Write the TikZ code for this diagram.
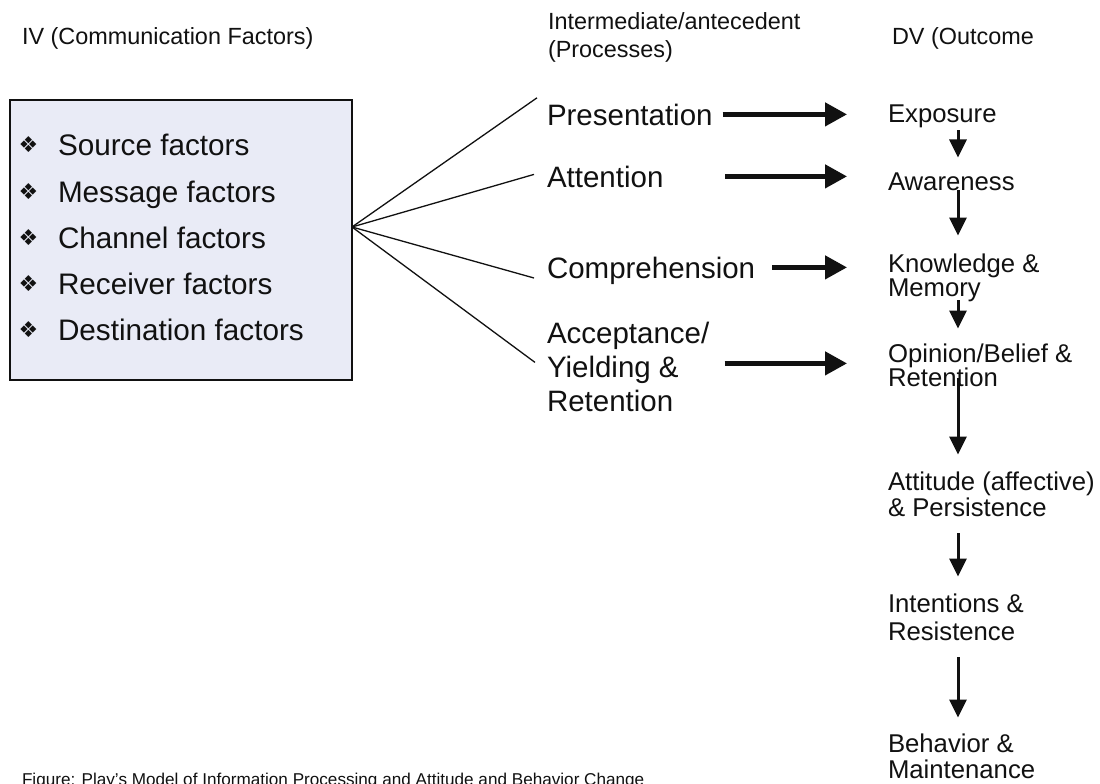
\documentclass[tikz,border=0pt]{standalone}
\usepackage{fontspec}
\setmainfont{Liberation Sans}
\newfontfamily\symfont{DejaVu Sans}
\usetikzlibrary{arrows.meta}
\definecolor{boxfill}{RGB}{233,235,246}
\definecolor{ink}{RGB}{17,17,17}

\begin{document}
\begin{tikzpicture}[x=1bp,y=-1bp]
\tikzset{
  every node/.style={inner sep=0pt, outer sep=0pt, anchor=base west, text=ink},
  hdr/.style={font=\fontsize{23.5}{28}\selectfont},
  item/.style={font=\fontsize{29.8}{34}\selectfont},
  bul/.style={anchor=center, font=\symfont\fontsize{22}{22}\selectfont},
  proc/.style={font=\fontsize{29.6}{35}\selectfont, text height=21.2bp, text depth=0pt},
  outc/.style={font=\fontsize{25.8}{26}\selectfont, text height=18.5bp, text depth=0pt},
  note/.style={font=\fontsize{17.2}{20}\selectfont},
  fanline/.style={draw=ink, line width=1.3bp},
  harrow/.style={draw=ink, line width=4.5bp, -{Triangle[length=22bp,width=23bp]}},
  varrow/.style={draw=ink, line width=3bp, -{Triangle[length=18bp,width=17bp]}},
}
\useasboundingbox (0,0) rectangle (1100,784);
\fill[white] (0,0) rectangle (1100,784);

% column headings
\node[hdr] (hIV) at (22,45) {IV (Communication Factors)};
\node[hdr] (hMidA) at (548,30) {Intermediate/antecedent};
\node[hdr] (hMidB) at (548,58) {(Processes)};
\node[hdr] (hDV) at (892,45) {DV (Outcome};

% communication factors box
\node[draw=ink, line width=1.4bp, fill=boxfill, minimum width=342bp,
      minimum height=280bp, anchor=center] (box) at (181,240) {};
\foreach \y/\t [count=\i] in {155/Source factors, 202/Message factors,
    248/Channel factors, 294/Receiver factors, 340/Destination factors}{
  \node[bul] (bul\i) at (28.5,\y-10.5) {❖};
  \node[item] (fac\i) at (58,\y) {\t};
}

% processes
\node[proc] (pres) at (547,125) {Presentation};
\node[proc] (att)  at (547,187) {Attention};
\node[proc] (comp) at (547,278) {Comprehension};
\node[proc] (accA) at (547,343) {Acceptance/};
\node[proc] (accB) at (547,377) {Yielding \&};
\node[proc] (accC) at (547,411) {Retention};

% outcomes
\node[outc] (expo)  at (888,122) {Exposure};
\node[outc] (aware) at (888,190) {Awareness};
\node[outc] (knowA) at (888,272) {Knowledge \&};
\node[outc] (knowB) at (888,296) {Memory};
\node[outc] (opinA) at (888,362) {Opinion/Belief \&};
\node[outc] (opinB) at (888,386) {Retention};
\node[outc] (attiA) at (888,490) {Attitude (affective)};
\node[outc] (attiB) at (888,516) {\& Persistence};
\node[outc] (intA)  at (888,612) {Intentions \&};
\node[outc] (intB)  at (888,640) {Resistence};
\node[outc] (behA)  at (888,752) {Behavior \&};
\node[outc] (behB)  at (888,778) {Maintenance};

% caption
\node[note] (cap) at (22,785.5) {Figure: Play's Model of Information Processing and Attitude and Behavior Change};

% fan of lines from the factor box to the processes
\coordinate (fan) at ([shift={(0,-13)}]box.east);
\draw[fanline] (fan) -- ([shift={(-10,-6)}]pres.north west);
\draw[fanline] (fan) -- ([shift={(-13,-2)}]att.west);
\draw[fanline] (fan) -- ([shift={(-13,0)}]comp.south west);
\draw[fanline] (fan) -- ([shift={(-12,-4)}]accB.west);

% processes lead to outcomes
\draw[harrow, shorten <=10bp, shorten >=41bp] (pres.east) -- (pres.east -| expo.west);
\draw[harrow, shorten <=62bp, shorten >=41bp] (att.east) -- (att.east -| aware.west);
\draw[harrow, shorten <=17bp, shorten >=41bp] (comp.east) -- (comp.east -| knowA.west);
\draw[harrow, shorten <=46bp, shorten >=41bp] ([shift={(0,-3)}]accB.east) -- ([shift={(0,-3)}]accB.east -| opinA.west);

% outcome chain
\coordinate (vx) at (958,0);
\draw[varrow, shorten <=8bp, shorten >=14bp] (expo.south -| vx) -- (aware.north -| vx);
\draw[varrow, shorten >=18bp] (aware.south -| vx) -- (knowA.north -| vx);
\draw[varrow, shorten <=4bp, shorten >=15bp] (knowB.south -| vx) -- (opinA.north -| vx);
\draw[varrow, shorten <=-8bp, shorten >=17bp] (opinB.south -| vx) -- (attiA.north -| vx);
\draw[varrow, shorten <=17bp, shorten >=17bp] (attiB.south -| vx) -- (intA.north -| vx);
\draw[varrow, shorten <=17bp, shorten >=16bp] (intB.south -| vx) -- (behA.north -| vx);
\end{tikzpicture}
\end{document}
